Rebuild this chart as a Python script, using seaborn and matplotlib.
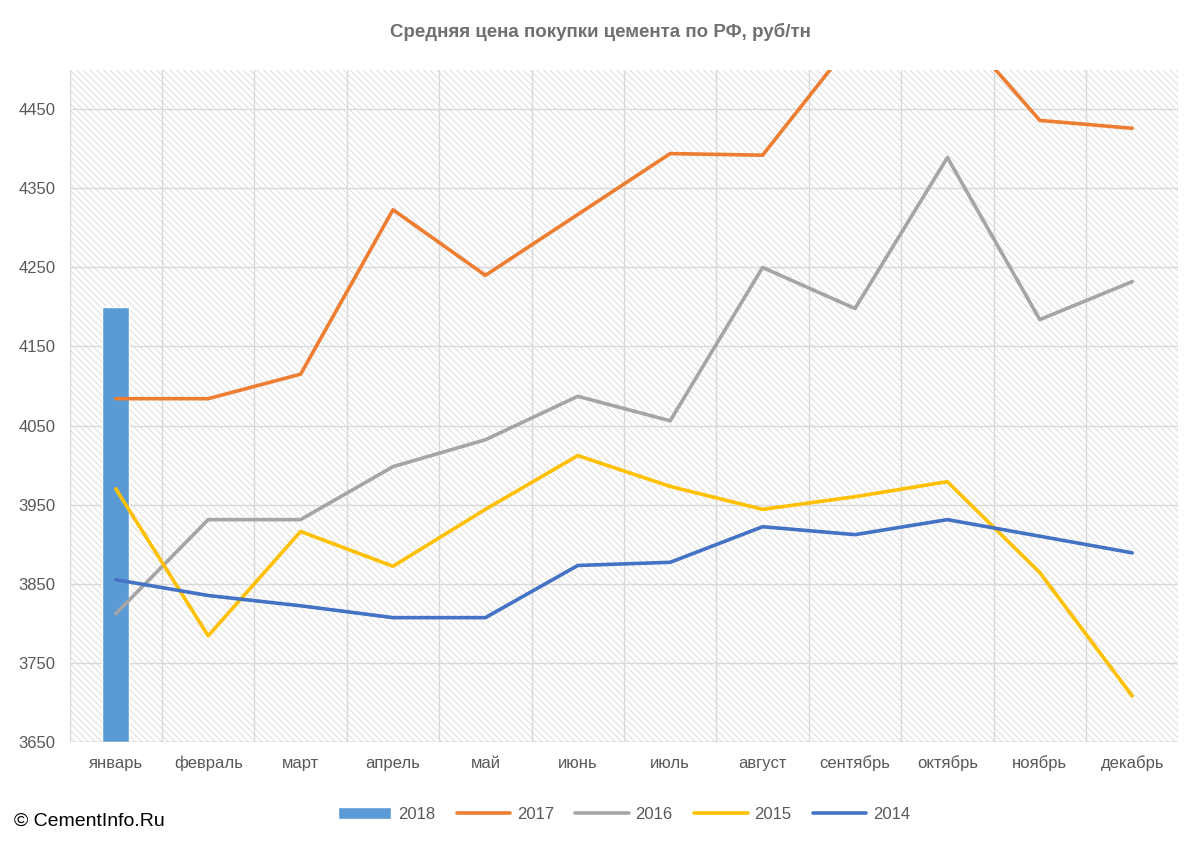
import numpy as np
import pandas as pd
import matplotlib
matplotlib.use("Agg")
import matplotlib.pyplot as plt
import seaborn as sns

months = ["январь", "февраль", "март", "апрель", "май", "июнь", "июль",
          "август", "сентябрь", "октябрь", "ноябрь", "декабрь"]
y2018 = [4200]
y2017 = [4084, 4084, 4115, 4323, 4240, 4317, 4394, 4392, 4540, 4570, 4436, 4426]
y2016 = [3812, 3931, 3931, 3998, 4032, 4087, 4056, 4250, 4198, 4389, 4184, 4232]
y2015 = [3970, 3784, 3916, 3872, 3944, 4012, 3973, 3944, 3960, 3979, 3864, 3708]
y2014 = [3855, 3835, 3822, 3807, 3807, 3873, 3877, 3922, 3912, 3931, 3910, 3889]

sns.set_style("white")
plt.rcParams['font.family'] = ['Liberation Sans', 'DejaVu Sans']
plt.rcParams['hatch.linewidth'] = 0.6

fig = plt.figure(figsize=(12, 8.41), dpi=100)
ax = fig.add_axes([0.058, 0.118, 0.924, 0.799])

# hatched background
ax.add_patch(plt.Rectangle((0, 0), 1, 1, transform=ax.transAxes, facecolor="white",
                           edgecolor="#d6d6d6", hatch="\\\\\\\\\\", lw=0, zorder=0))
for v in range(3650, 4500, 100):
    ax.axhline(v, color="#d9d9d9", lw=1, zorder=1)
for x in np.arange(-0.5, 12, 1):
    ax.axvline(x, color="#d9d9d9", lw=1, zorder=1)

x = np.arange(12)
ax.bar(x[:1], np.array(y2018) - 3650, bottom=3650, width=0.29, color="#5b9bd5",
       label="2018", zorder=2)
df = pd.DataFrame({"x": np.tile(x, 4),
                   "v": y2017 + y2016 + y2015 + y2014,
                   "year": np.repeat(["2017", "2016", "2015", "2014"], 12)})
sns.lineplot(data=df, x="x", y="v", hue="year", ax=ax, lw=2.6, zorder=3,
             palette={"2017": "#ed7d31", "2016": "#a5a5a5", "2015": "#ffc000", "2014": "#4472c4"})

ax.set_xlim(-0.5, 11.5)
ax.set_ylim(3650, 4500)
ax.set_yticks(range(3650, 4500, 100))
ax.set_xticks(x)
ax.set_xticklabels(months)
ax.tick_params(colors="#595959", labelsize=12, length=0, pad=10)
ax.set_xlabel("")
ax.set_ylabel("")
for s in ax.spines.values():
    s.set_visible(False)
ax.axhline(3650, color="#bfbfbf", lw=1, zorder=2)

h, l = ax.get_legend_handles_labels()
order = [l.index(k) for k in ["2018", "2017", "2016", "2015", "2014"]]
ax.legend([h[i] for i in order], [l[i] for i in order], loc="upper center",
          bbox_to_anchor=(0.5, -0.075), ncol=5, frameon=False, handletextpad=0.4,
          fontsize=12, labelcolor="#595959", handlelength=3.2, columnspacing=1.3)
fig.text(0.5, 0.962, "Средняя цена покупки цемента по РФ, руб/тн", ha="center", va="center",
         fontsize=13.5, fontweight="bold", color="#707070")
fig.text(0.012, 0.018, "© CementInfo.Ru", fontsize=14, color="black")

fig.savefig("out.png", dpi=100)
